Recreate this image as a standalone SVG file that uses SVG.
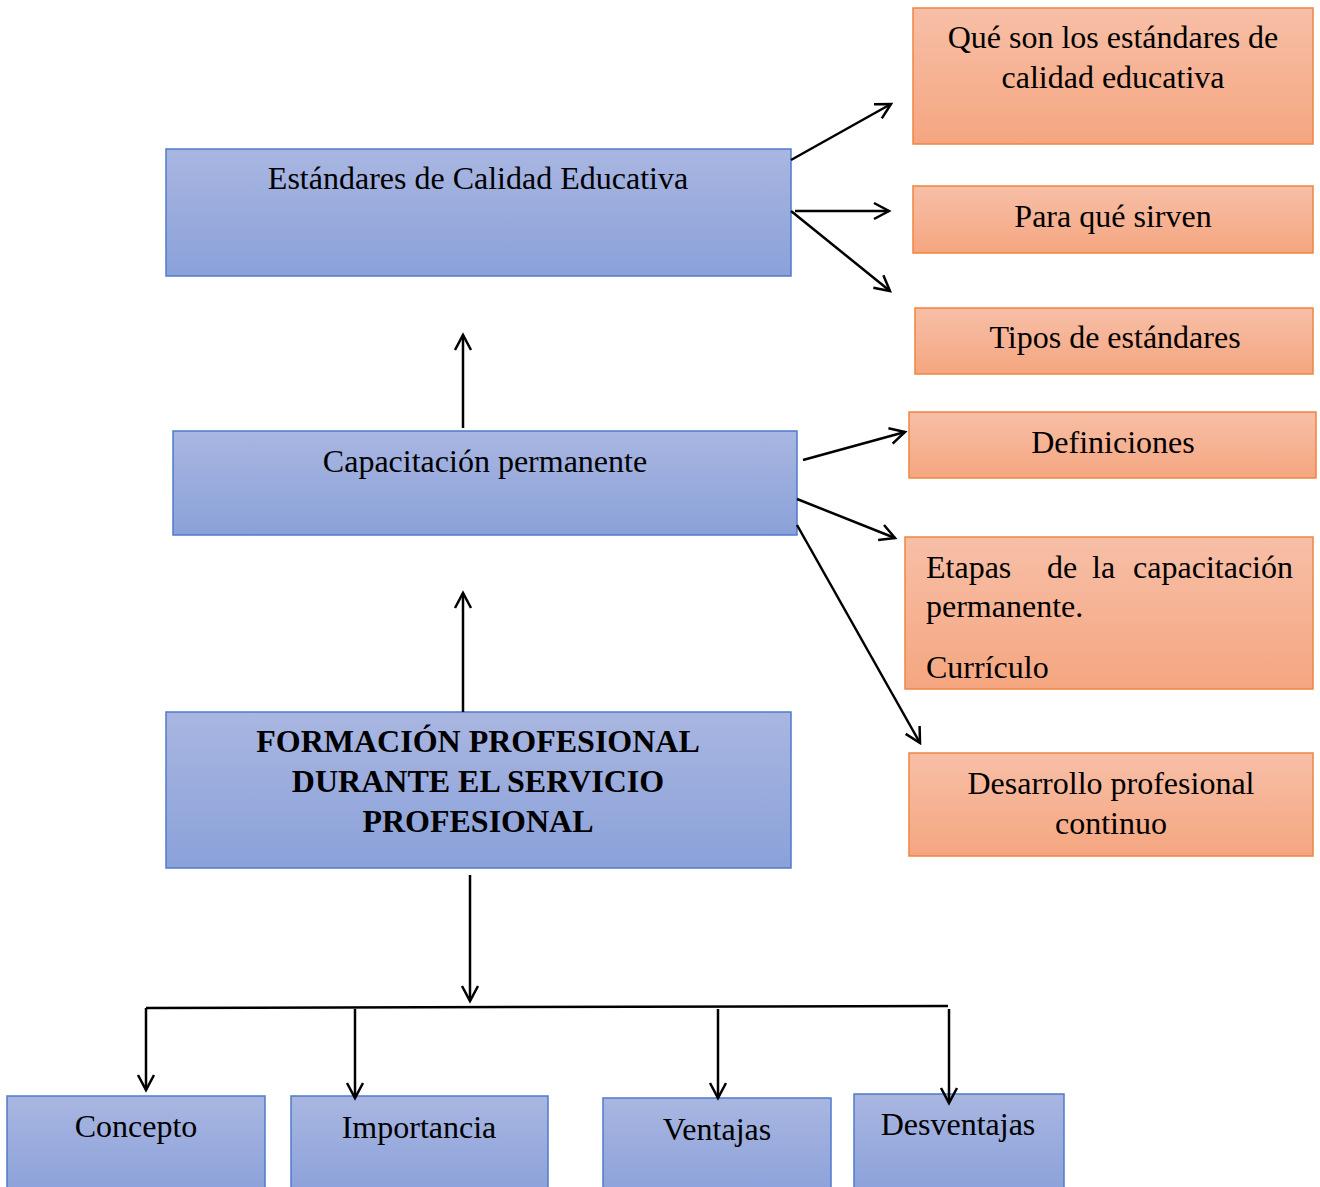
<svg xmlns="http://www.w3.org/2000/svg" width="1320" height="1187" viewBox="0 0 1320 1187">
<defs>
<linearGradient id="gb" x1="0" y1="0" x2="0" y2="1"><stop offset="0" stop-color="#a9b6e1"/><stop offset="1" stop-color="#8aa1d9"/></linearGradient>
<linearGradient id="go" x1="0" y1="0" x2="0" y2="1"><stop offset="0" stop-color="#f7bfa7"/><stop offset="1" stop-color="#f5a680"/></linearGradient>
<marker id="ah" markerUnits="userSpaceOnUse" markerWidth="20" markerHeight="20" viewBox="-16 -10 20 20" refX="0" refY="0" orient="auto">
<path d="M-15,-8 L0,0 L-15,8" fill="none" stroke="#000" stroke-width="2.5"/>
</marker>
</defs>
<style>
.b{fill:url(#gb);stroke:#4f7bcc;stroke-width:1.5}
.o{fill:url(#go);stroke:#ef8540;stroke-width:1.5}
text{font-family:"Liberation Serif","Times New Roman",serif;font-size:32px;fill:#000}
.c{text-anchor:middle}
.bd{font-weight:bold}
.ln{fill:none;stroke:#000;stroke-width:2.5}
.ar{marker-end:url(#ah)}
</style>
<rect width="1320" height="1187" fill="#fff"/>
<g id="n-estandares"><rect class="b" x="166" y="149" width="625" height="127"/><text class="c" x="478" y="189">Estándares de Calidad Educativa</text></g>
<g id="n-capacitacion"><rect class="b" x="173" y="431" width="624" height="104"/><text class="c" x="485" y="472">Capacitación permanente</text></g>
<g id="n-formacion"><rect class="b" x="166" y="712" width="625" height="156"/><text class="c bd" x="478" y="752">FORMACIÓN PROFESIONAL</text><text class="c bd" x="478" y="792">DURANTE EL SERVICIO</text><text class="c bd" x="478" y="832">PROFESIONAL</text></g>
<g id="n-concepto"><rect class="b" x="7" y="1096" width="258" height="100"/><text class="c" x="136" y="1137">Concepto</text></g>
<g id="n-importancia"><rect class="b" x="291" y="1096" width="257" height="100"/><text class="c" x="419" y="1138">Importancia</text></g>
<g id="n-ventajas"><rect class="b" x="603" y="1098" width="228" height="100"/><text class="c" x="717" y="1140">Ventajas</text></g>
<g id="n-desventajas"><rect class="b" x="854" y="1094" width="210" height="100"/><text class="c" x="958" y="1135">Desventajas</text></g>
<g id="n-queson"><rect class="o" x="913" y="8" width="400" height="136"/><text class="c" x="1113" y="48">Qué son los estándares de</text><text class="c" x="1113" y="88">calidad educativa</text></g>
<g id="n-paraque"><rect class="o" x="913" y="186" width="400" height="67"/><text class="c" x="1113" y="227">Para qué sirven</text></g>
<g id="n-tipos"><rect class="o" x="915" y="308" width="398" height="66"/><text class="c" x="1115" y="348">Tipos de estándares</text></g>
<g id="n-definiciones"><rect class="o" x="909" y="412" width="407" height="66"/><text class="c" x="1113" y="453">Definiciones</text></g>
<g id="n-etapas"><rect class="o" x="905" y="537" width="408" height="152"/><text x="926" y="578">Etapas</text><text x="1047" y="578">de</text><text x="1092" y="578">la</text><text x="1293" y="578" text-anchor="end">capacitación</text><text x="926" y="617">permanente.</text><text x="926" y="678">Currículo</text></g>
<g id="n-desarrollo"><rect class="o" x="909" y="753" width="404" height="103"/><text class="c" x="1111" y="794">Desarrollo profesional</text><text class="c" x="1111" y="834">continuo</text></g>
<g id="connectors">
<line class="ln ar" x1="791" y1="160" x2="891" y2="104"/>
<line class="ln ar" x1="795" y1="211" x2="889" y2="211"/>
<line class="ln ar" x1="791" y1="211" x2="890" y2="291"/>
<line class="ln ar" x1="463" y1="428" x2="463" y2="335"/>
<line class="ln ar" x1="803" y1="460" x2="905" y2="432"/>
<line class="ln ar" x1="797" y1="499" x2="895" y2="538"/>
<line class="ln ar" x1="797" y1="525" x2="920" y2="743"/>
<line class="ln ar" x1="463" y1="712" x2="463" y2="593"/>
<line class="ln ar" x1="470" y1="875" x2="470" y2="1001"/>
<line class="ln" x1="146" y1="1008" x2="948" y2="1006" stroke-width="2"/>
<line class="ln ar" x1="146" y1="1008" x2="146" y2="1090"/>
<line class="ln ar" x1="355" y1="1009" x2="355" y2="1098"/>
<line class="ln ar" x1="718" y1="1009" x2="718" y2="1098"/>
<line class="ln ar" x1="949" y1="1009" x2="949" y2="1103"/>
</g>
</svg>
